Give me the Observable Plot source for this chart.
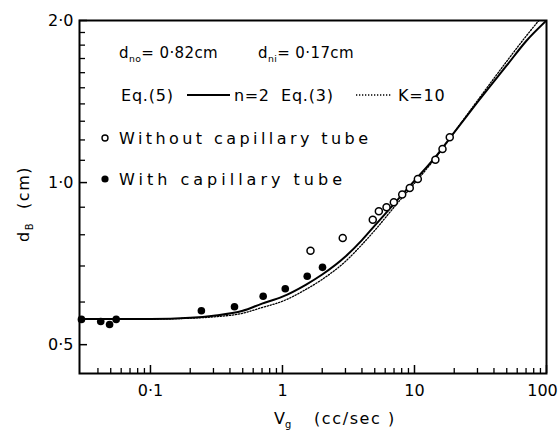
<!DOCTYPE html>
<html>
<head>
<meta charset="utf-8">
<script src="https://cdn.jsdelivr.net/npm/d3@7"></script>
<script src="https://cdn.jsdelivr.net/npm/@observablehq/plot@0.6"></script>
<style>
  body { margin: 0; background: #fff; }
  #chart svg { display: block; }
</style>
</head>
<body>
<div id="chart"></div>
<script>
// ---- data ----
const withCapX = [0.030, 0.042, 0.049, 0.055, 0.243, 0.433, 0.714, 1.05, 1.54, 2.01];
const withCapY = [0.557, 0.552, 0.545, 0.557, 0.578, 0.588, 0.615, 0.635, 0.670, 0.696];

const withoutCapX = [1.63, 2.86, 4.83, 5.37, 6.14, 6.97, 8.07, 9.21, 10.6, 14.4, 16.3, 18.5];
const withoutCapY = [0.747, 0.789, 0.853, 0.885, 0.900, 0.919, 0.950, 0.977, 1.015, 1.103, 1.155, 1.214];

const curveX = [0.029, 0.1, 0.2, 0.3, 0.5, 0.7, 1, 1.5, 2, 3, 4, 5, 7, 10, 15, 20, 30, 50, 70, 100];
const eq5Y   = [0.558, 0.558, 0.561, 0.566, 0.578, 0.596, 0.614, 0.646, 0.675, 0.729, 0.782, 0.832, 0.913, 1.008, 1.13, 1.24, 1.41, 1.65, 1.83, 2.0];
const eq3Y   = [0.558, 0.558, 0.560, 0.563, 0.572, 0.586, 0.602, 0.633, 0.661, 0.714, 0.767, 0.815, 0.900, 0.997, 1.125, 1.24, 1.42, 1.68, 1.87, 2.08];

const xTicks = [0.1, 1, 10, 100];
const xTickLabels = ["0·1", "1", "10", "100"];
const yTicks = [0.5, 1, 2];
const yTickLabels = ["0·5", "1·0", "2·0"];
const xMinor = [0.04, 0.05, 0.06, 0.07, 0.08, 0.09, 0.2, 0.3, 0.4, 0.5, 0.6, 0.7, 0.8, 0.9,
                2, 3, 4, 5, 6, 7, 8, 9, 20, 30, 40, 50, 60, 70, 80, 90];
const yMinor = [0.6, 0.7, 0.8, 0.9, 1.1, 1.2, 1.3, 1.4, 1.5, 1.6, 1.7, 1.8, 1.9];

// ---- build tables ----
const withCap = withCapX.map((x, i) => ({x, y: withCapY[i]}));
const withoutCap = withoutCapX.map((x, i) => ({x, y: withoutCapY[i]}));
const eq5 = curveX.map((x, i) => ({x, y: eq5Y[i]}));
const eq3 = curveX.map((x, i) => ({x, y: eq3Y[i]}));
const xLab = new Map(xTicks.map((t, i) => [t, xTickLabels[i]]));
const yLab = new Map(yTicks.map((t, i) => [t, yTickLabels[i]]));

const W = 559, H = 434;
const mL = 79, mR = 13, mT = 20, mB = 61;
const pw = W - mL - mR, ph = H - mT - mB;
const FONT = "DejaVu Sans";

const chart = Plot.plot({
  width: W, height: H,
  marginLeft: mL, marginRight: mR, marginTop: mT, marginBottom: mB,
  style: {fontFamily: FONT, fontSize: "16px", color: "#000", background: "#fff", overflow: "visible"},
  x: {type: "log", domain: [0.029, 100]},
  y: {type: "log", domain: [0.442, 2.0]},
  marks: [
    Plot.line(eq3, {x: "x", y: "y", stroke: "#000", strokeWidth: 1.3, strokeDasharray: "1.3,1.7", curve: "monotone-x", clip: true}),
    Plot.line(eq5, {x: "x", y: "y", stroke: "#000", strokeWidth: 2, curve: "monotone-x", clip: true}),
    Plot.dot(withCap, {x: "x", y: "y", r: 3.8, fill: "#000"}),
    Plot.dot(withoutCap, {x: "x", y: "y", r: 3.5, fill: "#fff", stroke: "#000", strokeWidth: 1.5}),
    Plot.tickX(xMinor, {x: d => d, insetTop: ph - 5, stroke: "#000", strokeWidth: 1.3}),
    Plot.tickX(xTicks, {x: d => d, insetTop: ph - 8, stroke: "#000", strokeWidth: 1.5}),
    Plot.tickY(yMinor, {y: d => d, insetRight: pw - 6, stroke: "#000", strokeWidth: 1.3}),
    Plot.tickY(yTicks, {y: d => d, insetRight: pw - 8, stroke: "#000", strokeWidth: 1.5}),
    Plot.axisX(xTicks.slice(0, 3), {tickSize: 0, tickPadding: 11, tickFormat: d => xLab.get(d), label: null, fontSize: 16}),
    Plot.axisX(xTicks.slice(3), {tickSize: 0, tickPadding: 11, tickFormat: d => xLab.get(d), label: null, fontSize: 16, dx: -4}),
    Plot.axisY(yTicks, {tickSize: 0, tickPadding: 6, tickFormat: d => yLab.get(d), label: null, fontSize: 16}),
    Plot.frame({stroke: "#000", strokeWidth: 2})
  ]
});

document.getElementById("chart").appendChild(chart);

// ---- annotations (text with subscripts) ----
const svg = d3.select(chart);
const g = svg.append("g").attr("font-family", FONT).attr("fill", "#000").attr("text-anchor", "start");

function addText(x, y, parts, size, extra) {
  const t = g.append("text").attr("x", x).attr("y", y).attr("font-size", size).attr("text-anchor", "start");
  if (extra) extra(t);
  let pending = 0;
  parts.forEach(p => {
    if (typeof p === "string") {
      const s = t.append("tspan").text(p);
      if (pending) { s.attr("dy", pending); pending = 0; }
    } else {
      t.append("tspan").attr("font-size", size * 0.62).attr("dy", size * 0.28).text(p.sub);
      pending = -size * 0.28;
    }
  });
  return t;
}

// y-axis label
addText(0, 0, ["d", {sub: "B"}, "  (cm)"], 16, t => t
  .attr("transform", "translate(29,204) rotate(-90)")
  .attr("text-anchor", "middle")
  .attr("letter-spacing", 1.5)
  .style("white-space", "pre"));

// x-axis label
addText(274, 424, ["V", {sub: "g"}], 16);
addText(314, 424, ["(cc/sec )"], 16, t => t.attr("letter-spacing", 1.6).style("white-space", "pre"));

// legend line 1
addText(119, 58, ["d", {sub: "no"}, "= 0·82cm"], 15, t => t.attr("letter-spacing", 0.4));
addText(258, 58, ["d", {sub: "ni"}, "= 0·17cm"], 15, t => t.attr("letter-spacing", 0.4));

// legend line 2
addText(121, 101, ["Eq.(5)"], 16, t => t.attr("letter-spacing", 0.8));
g.append("line").attr("x1", 187).attr("x2", 230).attr("y1", 95).attr("y2", 95)
  .attr("stroke", "#000").attr("stroke-width", 1.8);
addText(234, 101, ["n=2"], 16, t => t.attr("letter-spacing", 0.6));
addText(281, 101, ["Eq.(3)"], 16, t => t.attr("letter-spacing", 0.8));
g.append("line").attr("x1", 356).attr("x2", 391).attr("y1", 95).attr("y2", 95)
  .attr("stroke", "#000").attr("stroke-width", 1.3).attr("stroke-dasharray", "1.3,1.7");
addText(398, 101, ["K=10"], 16, t => t.attr("letter-spacing", 0.8));

// legend lines 3 and 4
g.append("circle").attr("cx", 105).attr("cy", 138).attr("r", 3)
  .attr("fill", "#fff").attr("stroke", "#000").attr("stroke-width", 1.4);
addText(119, 144, ["Without capillary tube"], 16, t => t.attr("textLength", 249).attr("lengthAdjust", "spacing"));
g.append("circle").attr("cx", 105).attr("cy", 179).attr("r", 3.6).attr("fill", "#000");
addText(119, 185, ["With capillary tube"], 16, t => t.attr("textLength", 223).attr("lengthAdjust", "spacing"));
</script>
</body>
</html>
